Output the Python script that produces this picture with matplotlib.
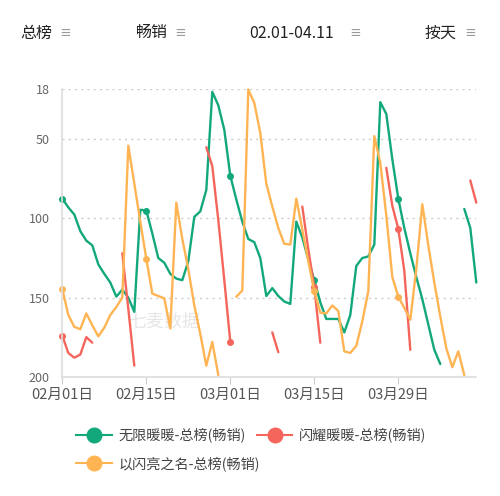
import numpy as np
import matplotlib.pyplot as plt
from matplotlib.lines import Line2D

plt.rcParams['font.family'] = ['Noto Sans CJK SC', 'DejaVu Sans']

# dias a partir de 02-01 (0..69 -> 04-11), ranking (None = fora do ranking)
dias = np.arange(70)
tick_dias = [0, 14, 28, 42, 56]
tick_labels = ['02月01日', '02月15日', '03月01日', '03月15日', '03月29日']
y_ticks = [18, 50, 100, 150, 200]

series_names = ['无限暖暖-总榜(畅销)', '闪耀暖暖-总榜(畅销)', '以闪亮之名-总榜(畅销)']
series_colors = ['#12a87b', '#f4655c', '#ffb454']

wuxian = [87.5, 93, 97.5, 108, 114, 117, 129, 135, 140.5, 149.4,
          145, 150, 159, 94.5, 95, 109.5, 125, 128, 135, 138,
          139, 127, 99, 95.5, 82, 20, 28.5, 44, 73, 88,
          102, 113, 115, 125, 149, 144, 149, 152.5, 154, 102,
          112, 126, 139, 153, 163.5, 163.5, 163.5, 172, 161, 130,
          125, 124, 116.5, 26.5, 34, 62.5, 87.5, 106, 122, 137,
          151, 167, 183, 192, None, None, None, 94, 106, 140.5]

shanyao = [174, 185, 188, 186, 175, 178.5, None, None, None, None,
           122, 157, 193, None, None, None, None, None, None, None,
           None, None, None, None, 55, 67, 101, 139, 178, None,
           None, None, None, None, None, 172, 184.5, None, None, None,
           92.5, 119.5, 143.5, 178.5, None, None, None, None, None, None,
           None, None, None, None, 68, 92, 106.5, 133, 183, None,
           None, None, None, None, None, None, None, None, 76, 90]

shanliang = [144.5, 161, 168.5, 170, 160, 167.5, 174.5, 169, 161, 156,
             150, 54, 78, 102, 125.5, 147.5, 149, 150.5, 169.5, 90,
             113, 132, 155, 173, 193, 178, 199, None, None, 149.5,
             145.5, 18.5, 27, 46, 78, 92.5, 106, 116, 116.5, 87.5,
             107, 127, 146, 159.5, 160, 155, 158.5, 184, 185, 180.5,
             165, 146, 48, 65, 98, 137, 149.5, 156.5, 164, 132,
             91, 117, 140.5, 162, 182, 194, 184, 199, None, None]

W, H = 500, 496
fig = plt.figure(figsize=(W / 100, H / 100), dpi=100)
ax = fig.add_axes([62.3 / W, 1 - 376.7 / H, 414 / W, 288 / H])

for vals, cor in zip([wuxian, shanyao, shanliang], series_colors):
    v = np.array([np.nan if a is None else a for a in vals], dtype=float)
    marc = [d for d in tick_dias if not np.isnan(v[d])]
    ax.plot(dias, v, color=cor, lw=1.7, solid_joinstyle='round', solid_capstyle='round',
            marker='o', ms=4, markevery=marc, clip_on=False)

ax.set_xlim(0, 69)
ax.set_ylim(200, 18)
ax.set_yticks(y_ticks)
ax.set_yticklabels([str(t) for t in y_ticks], fontsize=9, color='#666666')
ax.set_xticks(tick_dias)
ax.set_xticklabels(tick_labels, fontsize=10.5, color='#555555')
ax.tick_params(axis='y', length=0, pad=9)
ax.tick_params(axis='x', length=5, color='#cccccc', pad=3)

for t in y_ticks[:-1]:
    ax.axhline(t, color='#cccccc', lw=1, ls=(0, (1.5, 3)), zorder=0)

for s in ['top', 'right']:
    ax.spines[s].set_visible(False)
ax.spines['left'].set_color('#dddddd')
ax.spines['bottom'].set_color('#dddddd')
ax.spines['left'].set_linewidth(1.2)
ax.spines['bottom'].set_linewidth(1.2)

# marca d'agua
ax.text(0.245, 0.19, '七麦数据', transform=ax.transAxes, fontsize=13, color='#e6e6e6',
        ha='center', va='center', zorder=0)

# cabecalho
def px(x, y):
    return x / W, 1 - y / H

for txt, x in [('总榜', 20.7), ('畅销', 135), ('02.01-04.11', 249.3), ('按天', 425)]:
    fig.text(*px(x, 33), txt, fontsize=11.5, color='#222222', ha='left', va='center')
for x in [65, 180, 355, 470]:
    fig.text(*px(x, 34), '≡', fontsize=8.5, color='#9a9a9a', ha='center', va='center',
             fontweight='bold')

# legenda
leg_pos = [(76, 111.7, 118.3, 435), (257.3, 291.7, 299.3, 435), (76, 111.7, 118.3, 463.3)]
for (x0, x1, xt, y), nome, cor in zip(leg_pos, series_names, series_colors):
    fig.add_artist(Line2D([x0 / W, x1 / W], [1 - y / H, 1 - y / H], color=cor, lw=1.5,
                          transform=fig.transFigure))
    fig.add_artist(Line2D([(x0 + x1) / 2 / W], [1 - y / H], color=cor, marker='o', ms=10.5,
                          transform=fig.transFigure))
    fig.text(xt / W, 1 - y / H, nome, fontsize=10.2, color='#444444', ha='left', va='center')

plt.savefig('out.png', dpi=100)
